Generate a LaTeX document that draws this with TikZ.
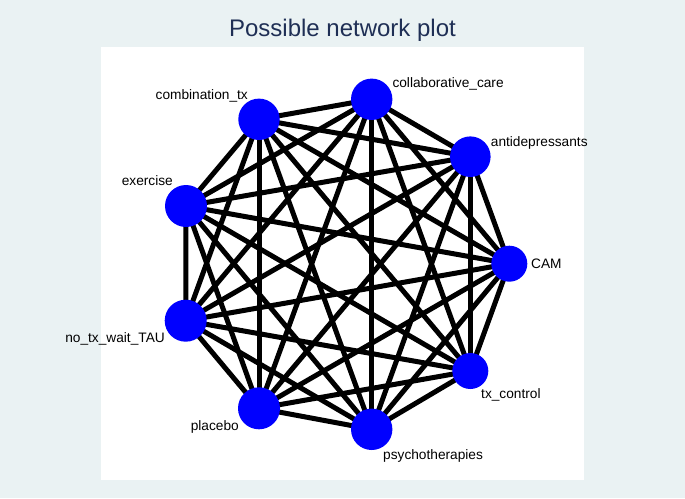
\documentclass[tikz,border=0pt]{standalone}
\usepackage{fontspec}
\setmainfont{Liberation Sans}
\definecolor{bgcol}{RGB}{234,242,243}
\definecolor{titlecol}{RGB}{31,47,85}
\begin{document}
\begin{tikzpicture}[x=1pt,y=-1pt,
	edge/.style={black,line width=5pt},
	lbl/.style={inner sep=0pt,font=\fontsize{13.7}{15}\selectfont}]
		\def\trts{CAM,antidep,collab,combo,exer,notx,placebo,psycho,txctrl}
		\fill[bgcol] (0,0) rectangle (685,498);
		\fill[white] (101,47) rectangle (584,480);
		\node[inner sep=0pt,anchor=base,text=titlecol,font=\fontsize{24}{26}\selectfont] (title) at (342.5,36.7) {Possible network plot};
		\path (509.3,263.7)coordinate(CAM) (470.3,156.7)coordinate(antidep) (371.7,99.3)coordinate(collab)
			(259,119.3)coordinate(combo) (186,206)coordinate(exer) (185.7,320.7)coordinate(notx)
			(259,408.3)coordinate(placebo) (371.7,429.3)coordinate(psycho) (470.3,371)coordinate(txctrl);
		\foreach \a [count=\i] in \trts
			\foreach \b [count=\j] in \trts
				{\ifnum\j>\i \draw[edge] (\a)--(\b); \fi}
		\foreach \diem/\r in {CAM/18,antidep/20.3,collab/20.7,combo/20.7,exer/21,notx/21,placebo/21,psycho/20.7,txctrl/18}
			\fill[blue](\diem)circle(\r);
		\node[lbl,anchor=base west] (lCAM) at (531,268.5) {CAM};
		\node[lbl,anchor=base west] (lantidep) at (490.7,146) {antidepressants};
		\node[lbl,anchor=base west] (lcollab) at (392.3,87.3) {collaborative\_care};
		\node[lbl,anchor=base east] (lcombo) at (248,99.3) {combination\_tx};
		\node[lbl,anchor=base east] (lexer) at (173,185.5) {exercise};
		\node[lbl,anchor=base east] (lnotx) at (165,342) {no\_tx\_wait\_TAU};
		\node[lbl,anchor=base east] (lplacebo) at (239,430) {placebo};
		\node[lbl,anchor=base west] (lpsycho) at (383,459) {psychotherapies};
		\node[lbl,anchor=base west] (ltxctrl) at (481,398) {tx\_control};
\end{tikzpicture}
\end{document}
